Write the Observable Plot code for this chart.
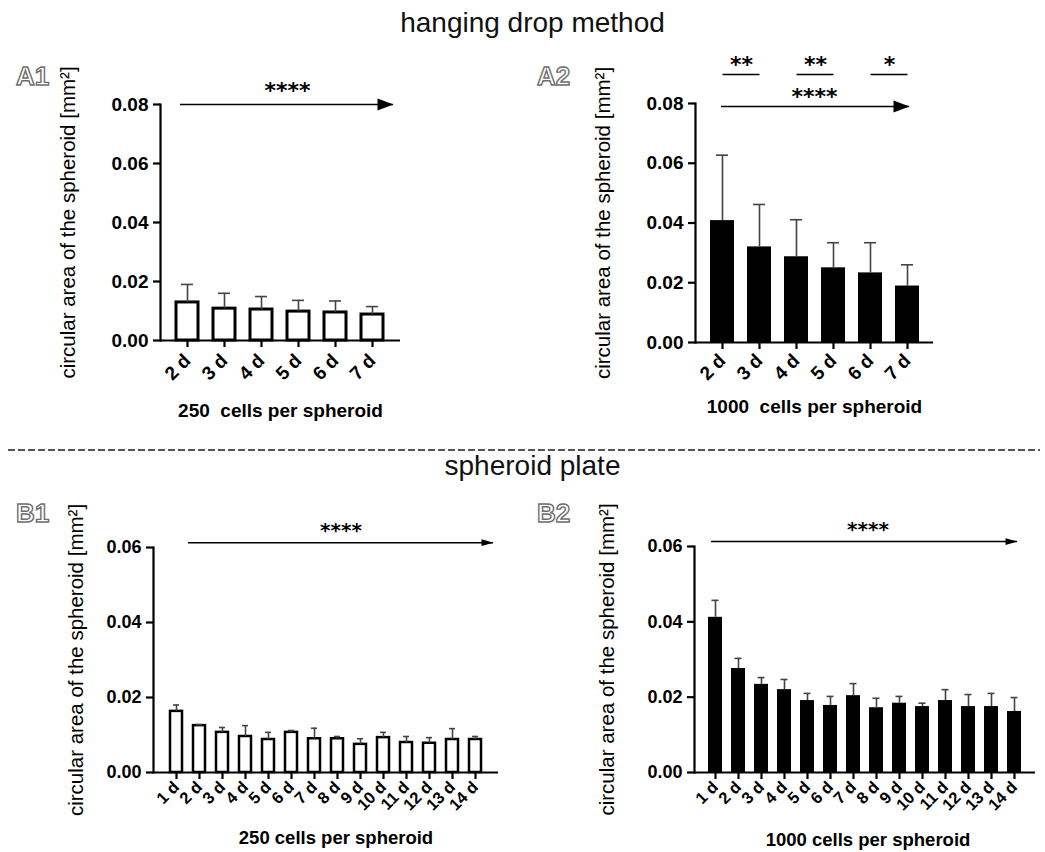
<!DOCTYPE html>
<html><head><meta charset="utf-8">
<script src="https://cdn.jsdelivr.net/npm/d3@7"></script>
<script src="https://cdn.jsdelivr.net/npm/@observablehq/plot@0.6"></script>
<style>
body{margin:0;background:#fff;}
#fig{position:relative;width:1045px;height:852px;font-family:"Liberation Sans",Arial,sans-serif;overflow:hidden;background:#fff}
.title{position:absolute;left:10px;width:1045px;text-align:center;font-size:28px;line-height:28px;color:#111}
.plab{position:absolute;font-size:26px;line-height:26px;font-weight:bold;color:#fff;-webkit-text-stroke:1.4px #6e6e6e}
.panel{position:absolute}
</style></head>
<body>
<div id="fig">
  <div class="title" style="top:9px">hanging drop method</div>
  <div class="title" style="top:452px">spheroid plate</div>
  <svg style="position:absolute;left:0;top:440px" width="1045" height="20"><line x1="8" x2="1040" y1="10" y2="10" stroke="#555" stroke-width="2" stroke-dasharray="7,3"/></svg>
  <div class="plab" style="left:16px;top:63px">A1</div>
  <div class="plab" style="left:537px;top:63px">A2</div>
  <div class="plab" style="left:16px;top:500px">B1</div>
  <div class="plab" style="left:537px;top:500px">B2</div>
</div>
<script>
// ---- data ----
const daysA = ["2 d", "3 d", "4 d", "5 d", "6 d", "7 d"];
const a1Mean = [0.0129, 0.0108, 0.0105, 0.0098, 0.0095, 0.0088];
const a1Sd   = [0.0061, 0.0052, 0.0044, 0.0038, 0.0039, 0.0027];
const a2Mean = [0.0408, 0.0320, 0.0287, 0.0250, 0.0233, 0.0189];
const a2Sd   = [0.0219, 0.0142, 0.0124, 0.0084, 0.0101, 0.0071];
const daysB = ["1 d", "2 d", "3 d", "4 d", "5 d", "6 d", "7 d", "8 d", "9 d", "10 d", "11 d", "12 d", "13 d", "14 d"];
const b1Mean = [0.0163, 0.0125, 0.0107, 0.0096, 0.0088, 0.0107, 0.0090, 0.0090, 0.0075, 0.0093, 0.0080, 0.0078, 0.0088, 0.0088];
const b1Sd   = [0.0017, 0.0003, 0.0013, 0.0029, 0.0019, 0.0005, 0.0028, 0.0006, 0.0015, 0.0014, 0.0016, 0.0015, 0.0029, 0.0008];
const b2Mean = [0.0412, 0.0276, 0.0234, 0.0220, 0.0191, 0.0178, 0.0204, 0.0172, 0.0184, 0.0175, 0.0191, 0.0175, 0.0175, 0.0162];
const b2Sd   = [0.0045, 0.0027, 0.0018, 0.0027, 0.0019, 0.0024, 0.0032, 0.0025, 0.0018, 0.0009, 0.0029, 0.0032, 0.0035, 0.0037];
const ticksA = [0, 0.02, 0.04, 0.06, 0.08];
const ticksB = [0, 0.02, 0.04, 0.06];
const sigFrom  = ["2 d", "4 d", "6 d"];
const sigTo    = ["3 d", "5 d", "7 d"];
const sigLabel = ["**", "**", "*"];
const trendLabel = "****";
const yLabel = "circular area of the spheroid [mm²]";
const xLabelA1 = "250  cells per spheroid";
const xLabelA2 = "1000  cells per spheroid";
const xLabelB1 = "250 cells per spheroid";
const xLabelB2 = "1000 cells per spheroid";

const FONT = '"Liberation Sans", Arial, sans-serif';
const STARFONT = '"DejaVu Sans", sans-serif';

function head(ratio) {
  return {draw(ctx, size) {
    const r = Math.sqrt(size / Math.PI);
    ctx.moveTo(r, 0); ctx.lineTo(-r, ratio * r); ctx.lineTo(-r, -ratio * r); ctx.closePath();
  }};
}

function panel(c) {
  const data = c.days.map((d, i) => ({day: d, mean: c.mean[i], sd: c.sd[i]}));
  const marks = [
    Plot.barY(data, {x: "day", y: "mean", fill: c.filled ? "black" : "white", stroke: "black", strokeWidth: c.barStroke}),
    Plot.ruleX(data, {x: "day", y1: "mean", y2: d => d.mean + d.sd, stroke: "#444", strokeWidth: 1.6}),
    Plot.tickY(data, {x: "day", y: d => d.mean + d.sd, stroke: "#444", strokeWidth: 1.6, insetLeft: c.capInset, insetRight: c.capInset}),
    Plot.ruleY([0], {stroke: "black", strokeWidth: 2.2}),
    Plot.frame({anchor: "left", stroke: "black", strokeWidth: 2.2}),
    Plot.axisY(c.ticks, {tickFormat: d3.format(".2f"), tickSize: 7, tickPadding: c.yPad, strokeWidth: 2.2, fontSize: c.yFont, fontWeight: "bold", fontFamily: FONT, label: null}),
    Plot.axisX({tickSize: 7, tickPadding: c.xPad, tickRotate: -45, strokeWidth: 2.2, fontSize: c.xFont, fontWeight: "bold", fontFamily: FONT, label: null}),
    Plot.ruleY([c.arrowY], {stroke: "black", strokeWidth: 1.5, insetLeft: c.arrowL, insetRight: c.arrowR}),
    Plot.dot([c.arrowY], {y: d => d, frameAnchor: "right", dx: c.headDx, r: c.headR, symbol: head(c.headRatio), fill: "black", stroke: null}),
    Plot.text([trendLabel], {y: () => c.arrowY, text: d => d, dx: c.starsDx, dy: c.starsDy, fontSize: c.starFont, fontWeight: "bold", fontFamily: STARFONT}),
    Plot.text([yLabel], {frameAnchor: "left", textAnchor: "middle", rotate: -90, dx: c.yLabelDx, text: d => d, fontSize: 20.5, fontFamily: FONT}),
    Plot.text([c.xLabel], {frameAnchor: "bottom", textAnchor: "middle", dx: c.xTitleDx, dy: c.xTitleDy, text: d => d, fontSize: c.xTitleFont, fontWeight: "bold", fontFamily: FONT})
  ];
  if (c.sig) {
    const sig = sigFrom.map((f, i) => ({from: f, to: sigTo[i], label: sigLabel[i]}));
    marks.push(
      Plot.link(sig, {x1: "from", x2: "to", y1: () => c.sigY, y2: () => c.sigY, stroke: "black", strokeWidth: 1.5}),
      Plot.text(sig, {x: "from", y: () => c.sigY, text: "label", dx: c.sigDx, dy: c.starsDy, fontSize: c.starFont, fontWeight: "bold", fontFamily: STARFONT})
    );
  }
  const svg = Plot.plot({
    width: c.width, height: c.height,
    marginLeft: c.mL, marginRight: c.mR, marginTop: c.mT, marginBottom: c.mB,
    x: {type: "band", domain: c.days, paddingInner: c.pi, paddingOuter: c.po},
    y: {domain: [0, c.yMax]},
    style: {fontFamily: FONT, color: "black", background: "transparent", overflow: "visible", whiteSpace: "pre"},
    marks
  });
  const wrap = document.createElement("div");
  wrap.className = "panel";
  wrap.style.left = c.left + "px";
  wrap.style.top = c.top + "px";
  wrap.appendChild(svg);
  document.getElementById("fig").appendChild(wrap);
}

panel({days: daysA, mean: a1Mean, sd: a1Sd, filled: false, barStroke: 3, capInset: 5,
  left: 0, top: 50, width: 420, height: 380, mL: 160, mR: 20, mT: 54, mB: 90, pi: 0.4, po: 0.358,
  yMax: 0.08, ticks: ticksA, arrowY: 0.08, arrowL: 20, arrowR: 7, headR: 8, headRatio: 0.75, headDx: -15,
  starsDx: 7, starsDy: -14, starFont: 22, yLabelDx: -92, xLabel: xLabelA1, xTitleDx: 0, xTitleDy: 76,
  yFont: 19, yPad: 5, xFont: 19, xPad: 10, xTitleFont: 19});
panel({days: daysA, mean: a2Mean, sd: a2Sd, filled: true, barStroke: 0, capInset: 6,
  left: 540, top: 50, width: 420, height: 380, mL: 155, mR: 27, mT: 53, mB: 88, pi: 0.36, po: 0.362,
  yMax: 0.08, ticks: ticksA, arrowY: 0.079, arrowL: 26, arrowR: 24, headR: 8, headRatio: 0.75, headDx: -32,
  starsDx: 0, starsDy: -10, starFont: 22, yLabelDx: -92, xLabel: xLabelA2, xTitleDx: 0, xTitleDy: 70,
  yFont: 19, yPad: 5, xFont: 19, xPad: 8, xTitleFont: 19, sig: true, sigY: 0.0897, sigDx: 19});
panel({days: daysB, mean: b1Mean, sd: b1Sd, filled: false, barStroke: 2.5, capInset: 3,
  left: 0, top: 480, width: 520, height: 372, mL: 153, mR: 22, mT: 67, mB: 80, pi: 0.485, po: 0.646,
  yMax: 0.06, ticks: ticksB, arrowY: 0.0613, arrowL: 35, arrowR: 5, headR: 6, headRatio: 0.55, headDx: -11,
  starsDx: 15, starsDy: -12, starFont: 20, yLabelDx: -77, xLabel: xLabelB1, xTitleDx: 10, xTitleDy: 71,
  yFont: 18, yPad: 5, xFont: 16.5, xPad: 5, xTitleFont: 18.5});
panel({days: daysB, mean: b2Mean, sd: b2Sd, filled: true, barStroke: 0, capInset: 3.5,
  left: 540, top: 480, width: 505, height: 372, mL: 154, mR: 10, mT: 66, mB: 80, pi: 0.4, po: 0.395,
  yMax: 0.06, ticks: ticksB, arrowY: 0.0613, arrowL: 17, arrowR: 18, headR: 6, headRatio: 0.55, headDx: -24,
  starsDx: 3, starsDy: -12, starFont: 20, yLabelDx: -87, xLabel: xLabelB2, xTitleDx: 3, xTitleDy: 73,
  yFont: 18, yPad: 5, xFont: 16.5, xPad: 5, xTitleFont: 18.5});
</script>
</body></html>
